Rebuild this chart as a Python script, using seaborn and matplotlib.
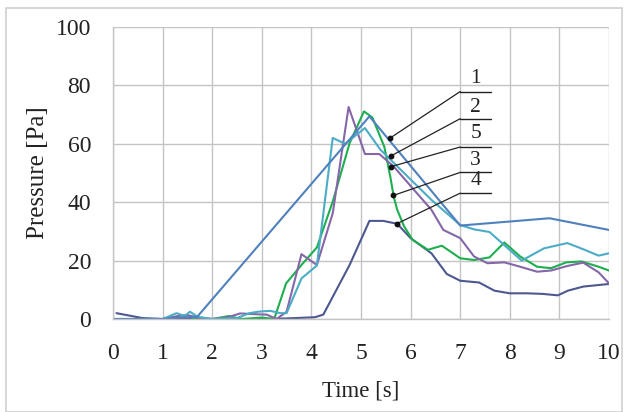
import matplotlib
matplotlib.use("Agg")
import matplotlib.pyplot as plt
import seaborn as sns
import pandas as pd
from matplotlib.patches import Rectangle

# ---- data ----
t1 = [0, 0.5, 1.0, 1.3, 1.7, 5.17, 7.0, 8.8, 10.0]
p1 = [0, 0, 0, 0.5, 0.8, 69.4, 32, 34.5, 30.5]

t2 = [0, 0.3, 0.7, 1.0, 1.28, 1.45, 1.55, 1.7, 2.0, 2.5, 2.75, 2.93, 3.17, 3.37, 3.5,
      3.8, 4.11, 4.43, 4.68, 5.08, 5.39, 5.94, 6.42, 7.0, 7.28, 7.59, 8.24, 8.69, 9.16,
      9.48, 9.79, 10.0]
p2 = [0, 0, 0, 0, 2.0, 1.0, 2.5, 0.8, 0, 0.3, 2.0, 2.5, 2.8, 2.0, 2.0,
      13.9, 18.3, 62, 60, 65.4, 58, 48.8, 40.8, 32.2, 30.7, 29.8, 20, 24.2, 26,
      23.9, 21.7, 22.5]

t5 = [0, 0.5, 1.0, 1.3, 1.49, 1.7, 2.0, 2.3, 2.56, 2.93, 3.1, 3.3, 3.5, 3.8, 4.11, 4.43,
      4.75, 5.08, 5.37, 5.66, 6.07, 6.42, 6.66, 7.0, 7.28, 7.55, 7.89, 8.21, 8.55,
      8.83, 9.17, 9.48, 9.79, 10.0]
p5 = [0, 0, 0, 1.0, 1.4, 0.5, 0, 0.5, 1.9, 1.6, 1.5, 0, 2.5, 22.2, 18.5, 36.2,
      72.6, 56.5, 56.5, 52.2, 44.2, 37.4, 30.5, 27.7, 21.4, 19.1, 19.4, 17.9, 16.2,
      16.6, 18.2, 19.3, 16, 12.2]

t3 = [1.6, 2.0, 2.33, 2.6, 3.0, 3.25, 3.49, 3.8, 4.11, 4.43, 4.77, 5.06, 5.23, 5.47,
      5.59, 5.66, 5.73, 5.87, 6.04, 6.35, 6.63, 7.0, 7.28, 7.59, 7.89, 8.21, 8.55,
      8.83, 9.14, 9.45, 9.79, 10.0]
p3 = [0, 0, 1.0, 0, 0.5, 0, 12.2, 18.5, 24.5, 40.2, 60.2, 71.1, 69, 59,
      48.8, 41.9, 37.4, 31.7, 27.1, 23.7, 25.1, 20.8, 20.2, 21.1, 26.2, 21.4, 17.9,
      17.4, 19.4, 19.7, 17.9, 16.6]

t4 = [0.07, 0.6, 1.0, 1.5, 2.0, 2.5, 3.0, 3.5, 4.07, 4.24, 4.77, 5.17, 5.45, 5.73, 6.0,
      6.42, 6.73, 7.0, 7.38, 7.69, 8.0, 8.35, 8.66, 8.97, 9.17, 9.48, 10.0]
p4 = [2.0, 0.3, 0, 0, 0, 0, 0, 0.2, 0.6, 1.5, 18.5, 33.6, 33.6, 32.6, 27.7,
      22.5, 15.4, 13.1, 12.5, 9.7, 8.8, 8.8, 8.6, 8.1, 9.7, 11.1, 12]

series_names = ["1", "2", "5", "3", "4"]
series_t = [t1, t2, t5, t3, t4]
series_p = [p1, p2, p5, p3, p4]

# label annotations: label, text y, underline y, pointer (t, p)
ann_labels = ["1", "2", "5", "3", "4"]
ann_text_y = [82.3, 72.6, 63.5, 54.3, 47.3]
ann_line_y = [77.9, 68.6, 58.9, 50.2, 43.1]
ann_pt_t = [5.59, 5.61, 5.61, 5.65, 5.72]
ann_pt_p = [62.0, 55.9, 52.2, 42.3, 32.6]

x_ticks = list(range(0, 11))
y_ticks = [0, 20, 40, 60, 80, 100]

# ---- build frame ----
rows = []
for name, ts, ps in zip(series_names, series_t, series_p):
    for i, (tt, pp) in enumerate(zip(ts, ps)):
        rows.append({"series": name, "t": tt, "p": pp, "order": i})
df = pd.DataFrame(rows)

palette = {"1": "#4F81BD", "2": "#4BACC6", "5": "#8566A8", "3": "#1DAF4F", "4": "#4D5890"}

sns.set_theme(style="white")
plt.rcParams["font.family"] = ["Liberation Serif", "DejaVu Serif"]

fig = plt.figure(figsize=(6.26, 4.12), dpi=100)
ax = fig.add_axes([113 / 626, 1 - 319 / 412, 496 / 626, 292 / 412])

sns.lineplot(data=df, x="t", y="p", hue="series", hue_order=["4", "3", "5", "2", "1"],
             palette=palette, sort=False, estimator=None, units="series",
             linewidth=1.5, legend=False, ax=ax)

ax.set_xlim(0, 10)
ax.set_ylim(0, 100)
ax.set_xticks(x_ticks)
ax.set_yticks(y_ticks)
ax.set_xticklabels([str(v) for v in x_ticks])
ax.set_yticklabels([str(v) for v in y_ticks])
ax.grid(True, color="#C4C4C4", linewidth=1.0)
ax.set_axisbelow(True)
for s in ["top", "right"]:
    ax.spines[s].set_visible(False)
for s in ["left", "bottom"]:
    ax.spines[s].set_color("#C4C4C4")
    ax.spines[s].set_linewidth(1.0)
ax.tick_params(axis="x", which="both", direction="out", length=5.8, width=1.0,
               color="#C4C4C4", pad=11.5, labelsize=17, labelcolor="#222222")
ax.tick_params(axis="y", which="both", direction="out", length=5.8, width=1.0,
               color="#C4C4C4", pad=10, labelsize=17, labelcolor="#222222")
ax.set_xlabel("Time [s]", fontsize=16.5, color="#222222")
ax.set_ylabel("Pressure [Pa]", fontsize=18, color="#222222")
ax.xaxis.set_label_coords(0.5, -0.21)
ax.yaxis.set_label_coords(-0.13, 0.5)

# annotations
for lab, ty, ly, pt, pp in zip(ann_labels, ann_text_y, ann_line_y, ann_pt_t, ann_pt_p):
    ax.plot([7.0, 7.63], [ly, ly], color="#222222", linewidth=1.0, clip_on=False)
    ax.plot([7.0, pt], [ly, pp], color="#222222", linewidth=0.9, clip_on=False)
    ax.plot([pt], [pp], "o", color="#111111", markersize=3.2)
    ax.text(7.31, ty, lab, ha="center", va="center", fontsize=15.5, color="#222222")

# outer chart border
fig.patches.append(Rectangle((6 / 626, 0.0), 616 / 626, 1 - 8 / 412,
                             transform=fig.transFigure, fill=False,
                             edgecolor="#D0D0D0", linewidth=1.2))

fig.savefig("out.png", dpi=100)
